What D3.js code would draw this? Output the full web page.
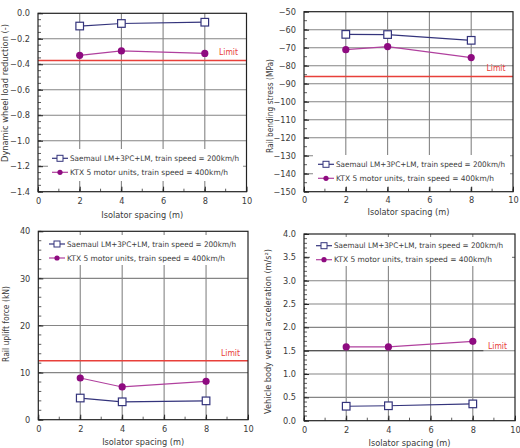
<!DOCTYPE html>
<html><head><meta charset="utf-8">
<script src="https://cdn.jsdelivr.net/npm/d3@7"></script>
<style>
html,body{margin:0;padding:0;background:#fff;}
svg{display:block;font-family:"DejaVu Sans",Verdana,sans-serif;}
</style></head>
<body>
<svg id="chart" width="520" height="448"></svg>
<script>
// ---------- data ----------
const xSpacing = [2, 4, 8];
const xTicks = [0, 2, 4, 6, 8, 10];
const seriesNames = ["Saemaul LM+3PC+LM, train speed = 200km/h", "KTX 5 motor units, train speed = 400km/h"];
const xTitle = "Isolator spacing (m)";

const wheelSaemaul = [-0.10, -0.08, -0.07];
const wheelKTX = [-0.33, -0.295, -0.315];
const wheelLimit = -0.37;
const wheelTicks = [0, -0.2, -0.4, -0.6, -0.8, -1.0, -1.2, -1.4];

const stressSaemaul = [-62.6, -62.7, -65.9];
const stressKTX = [-71.1, -69.4, -75.5];
const stressLimit = -86;
const stressTicks = [-50, -60, -70, -80, -90, -100, -110, -120, -130, -140, -150];

const upliftSaemaul = [4.6, 3.8, 4.0];
const upliftKTX = [8.85, 6.95, 8.15];
const upliftLimit = 12.5;
const upliftTicks = [0, 10, 20, 30, 40];

const accelSaemaul = [0.31, 0.32, 0.36];
const accelKTX = [1.58, 1.58, 1.70];
const accelLimit = 1.5;
const accelTicks = [0, 0.5, 1.0, 1.5, 2.0, 2.5, 3.0, 3.5, 4.0];

const yTitles = ["Dynamic wheel load reduction (-)", "Rail bending stress (MPa)", "Rail uplift force (kN)", "Vehicle body vertical acceleration (m/s\u00B2)"];

// ---------- layout / style ----------
const colSaemaul = "#34347c";
const colKTX = "#b0409e";
const colKTXpt = "#8e0b80";
const colLimit = "#e8403a";
const txtCol = "#3a3a3a";
const svg = d3.select("#chart");

const panels = [
  {box:[38, 246.5, 13.3, 191.7], dom:[-1.4, 0], ticks:wheelTicks, fmt:d3.format(".1f"), minor:0.05,
   s:wheelSaemaul, k:wheelKTX, lim:wheelLimit, limStyle:"red", yt:yTitles[0], ytx:5, ytc:93, ytl:138,
   leg:[48, 243, 149, 181], legY:158.3, legX:52, limLbl:[219, 52.3], tickY:201.7, titleY:215},
  {box:[304, 513, 11.7, 191.7], dom:[-150, -50], ticks:stressTicks, fmt:d3.format("d"), minor:5,
   s:stressSaemaul, k:stressKTX, lim:stressLimit, limStyle:"red", yt:yTitles[1], ytx:270, ytc:106, ytl:94,
   leg:[313, 510, 155, 187], legY:164.3, legX:318, limLbl:[486.5, 68.3], tickY:200.7, titleY:212},
  {box:[38.3, 248, 231.3, 419.7], dom:[0, 40], ticks:upliftTicks, fmt:d3.format("d"), minor:2,
   s:upliftSaemaul, k:upliftKTX, lim:upliftLimit, limStyle:"red", yt:yTitles[2], ytx:6, ytc:324, ytl:76,
   leg:[43, 246, 235, 265], legY:244, legX:49, limLbl:[221, 353.3], tickY:429.7, titleY:442},
  {box:[304, 515, 234, 420.7], dom:[0, 4], ticks:accelTicks, fmt:d3.format(".1f"), minor:0.1,
   s:accelSaemaul, k:accelKTX, lim:accelLimit, limStyle:"gray", yt:yTitles[3], ytx:268, ytc:331.5, ytl:165,
   leg:[310, 512, 237, 266], legY:245.7, legX:316, limLbl:[488, 345.7], tickY:430, titleY:442.5}
];

panels.forEach(p => {
  const [L, R, T, B] = p.box;
  const x = d3.scaleLinear().domain([0, 10]).range([L, R]);
  const y = d3.scaleLinear().domain(p.dom).range([B, T]);
  const g = svg.append("g");

  // grid
  g.append("g").selectAll("line").data(xTicks.filter(v => v > 0 && v < 10)).join("line")
    .attr("x1", d => x(d)).attr("x2", d => x(d)).attr("y1", T).attr("y2", B)
    .attr("stroke", "#858585").attr("stroke-width", 1.1);
  g.append("g").selectAll("line").data(p.ticks.filter(v => v !== p.dom[0] && v !== p.dom[1])).join("line")
    .attr("x1", L).attr("x2", R).attr("y1", d => y(d)).attr("y2", d => y(d))
    .attr("stroke", "#858585").attr("stroke-width", 1.1);

  // legend background
  g.append("rect").attr("x", p.leg[0]).attr("y", p.leg[2])
    .attr("width", p.leg[1] - p.leg[0]).attr("height", p.leg[3] - p.leg[2]).attr("fill", "#fff");

  // minor ticks (inside)
  const yMinor = d3.range(p.dom[0], p.dom[1] + 1e-9, p.minor);
  g.append("g").selectAll("line").data(yMinor).join("line")
    .attr("x1", L).attr("x2", L + 3).attr("y1", d => y(d)).attr("y2", d => y(d))
    .attr("stroke", "#333").attr("stroke-width", 0.8);
  g.append("g").selectAll("line").data(d3.range(0, 10.01, 1)).join("line")
    .attr("x1", d => x(d)).attr("x2", d => x(d)).attr("y1", B).attr("y2", B - 3)
    .attr("stroke", "#333").attr("stroke-width", 0.8);

  // limit
  if (p.limStyle === "red") {
    g.append("line").attr("x1", L).attr("x2", R).attr("y1", y(p.lim)).attr("y2", y(p.lim))
      .attr("stroke", colLimit).attr("stroke-width", 1.5);
  } else {
    g.append("line").attr("x1", L).attr("x2", x(8.5)).attr("y1", y(p.lim)).attr("y2", y(p.lim))
      .attr("stroke", "#555").attr("stroke-width", 1.2);
  }
  g.append("text").attr("x", p.limLbl[0]).attr("y", p.limLbl[1]).attr("dy", "0.35em")
    .attr("fill", colLimit).attr("font-size", "8px").attr("textLength", 19).attr("lengthAdjust", "spacingAndGlyphs").text("Limit");

  // frame
  g.append("rect").attr("x", L).attr("y", T).attr("width", R - L).attr("height", B - T)
    .attr("fill", "none").attr("stroke", "#222").attr("stroke-width", 1.2);

  // axes
  const yAxis = d3.axisLeft(y).tickValues(p.ticks).tickFormat(p.fmt).tickSize(-5).tickPadding(8);
  const ya = g.append("g").attr("transform", `translate(${L},0)`).call(yAxis);
  const xAxis = d3.axisBottom(x).tickValues(xTicks).tickFormat(d3.format("d")).tickSize(-5).tickPadding(6);
  const xa = g.append("g").attr("transform", `translate(0,${B})`).call(xAxis);
  [ya, xa].forEach(a => {
    a.select(".domain").remove();
    a.selectAll(".tick line").attr("stroke", "#222");
    a.selectAll("text").attr("fill", txtCol).attr("font-size", "8.2px").attr("font-family", "DejaVu Sans, Verdana, sans-serif");
  });
  xa.selectAll("text").attr("y", null).attr("dy", null).attr("dominant-baseline", "middle")
    .attr("transform", `translate(0,${p.tickY - B})`);

  // titles
  g.append("text").attr("x", (L + R) / 2).attr("y", p.titleY).attr("dy", "0.35em")
    .attr("text-anchor", "middle").attr("font-size", "9px").attr("fill", txtCol)
    .attr("textLength", 82).attr("lengthAdjust", "spacingAndGlyphs").text(xTitle);
  g.append("text").attr("transform", `translate(${p.ytx},${p.ytc}) rotate(-90)`)
    .attr("dy", "0.35em").attr("text-anchor", "middle").attr("font-size", "8.4px").attr("fill", txtCol)
    .attr("textLength", p.ytl).attr("lengthAdjust", "spacingAndGlyphs").text(p.yt);

  // series
  const line = d3.line().x((d, i) => x(xSpacing[i])).y(d => y(d));
  g.append("path").datum(p.s).attr("d", line).attr("fill", "none").attr("stroke", colSaemaul).attr("stroke-width", 1.2);
  g.append("path").datum(p.k).attr("d", line).attr("fill", "none").attr("stroke", colKTX).attr("stroke-width", 1.2);
  g.append("g").selectAll("circle").data(p.k).join("circle")
    .attr("cx", (d, i) => x(xSpacing[i])).attr("cy", d => y(d)).attr("r", 3.6).attr("fill", colKTXpt);
  g.append("g").selectAll("rect").data(p.s).join("rect")
    .attr("x", (d, i) => x(xSpacing[i]) - 3.8).attr("y", d => y(d) - 3.8)
    .attr("width", 7.6).attr("height", 7.6).attr("fill", "#fff").attr("stroke", colSaemaul).attr("stroke-width", 1.2);

  // legend
  const lg = g.append("g");
  const legLen = [169, 158];
  [0, 1].forEach(i => {
    const yy = p.legY + i * 14;
    lg.append("line").attr("x1", p.legX).attr("x2", p.legX + 16).attr("y1", yy).attr("y2", yy)
      .attr("stroke", i ? colKTX : colSaemaul).attr("stroke-width", 1.2);
    if (i) lg.append("circle").attr("cx", p.legX + 8).attr("cy", yy).attr("r", 2.6).attr("fill", colKTXpt);
    else lg.append("rect").attr("x", p.legX + 5).attr("y", yy - 3).attr("width", 6).attr("height", 6)
      .attr("fill", "#fff").attr("stroke", colSaemaul).attr("stroke-width", 1);
    lg.append("text").attr("x", p.legX + 18).attr("y", yy).attr("dy", "0.35em")
      .attr("font-size", "7.6px").attr("fill", txtCol)
      .attr("textLength", legLen[i]).attr("lengthAdjust", "spacingAndGlyphs").text(seriesNames[i]);
  });
});
</script>
</body></html>
